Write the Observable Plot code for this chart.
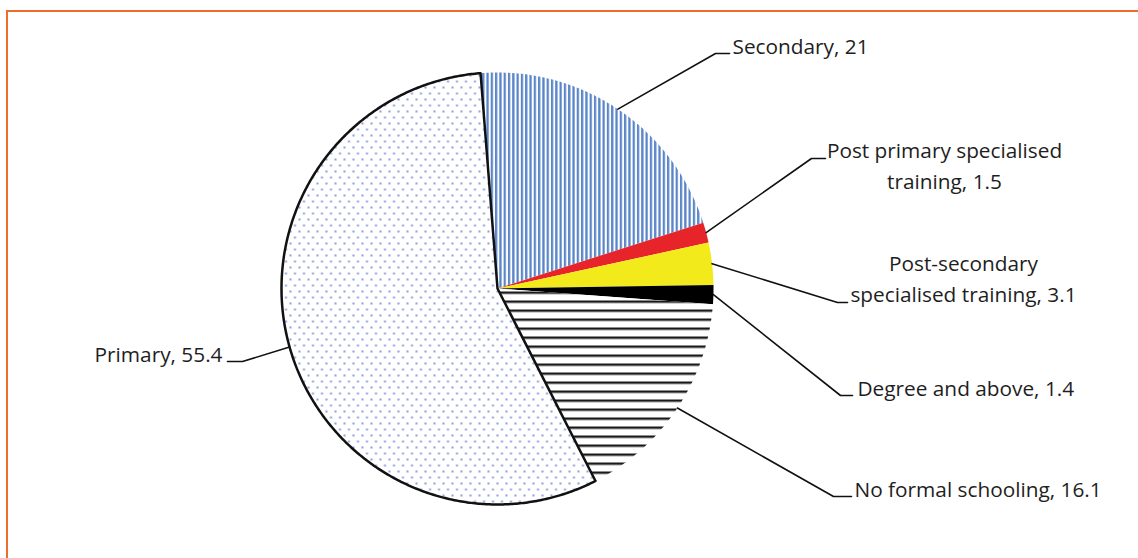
<!DOCTYPE html>
<html>
<head>
<meta charset="utf-8">
<script src="https://cdn.jsdelivr.net/npm/d3@7"></script>
<script src="https://cdn.jsdelivr.net/npm/@observablehq/plot@0.6"></script>
<style>
  html, body { margin: 0; padding: 0; background: #fff; overflow: hidden; }
  #wrap { position: relative; width: 1138px; height: 558px; }
  #frame { position: absolute; left: 6px; top: 10px; right: -20px; bottom: -20px;
           border: 2.5px solid #EF6D2C; pointer-events: none; }
  #chart { position: absolute; left: 0; top: 0; }
</style>
</head>
<body>
<div id="wrap"><div id="chart"></div><div id="frame"></div></div>
<script>
// Educational attainment shares (%)
const categories = [
  "Secondary",
  "Post primary specialised training",
  "Post-secondary specialised training",
  "Degree and above",
  "No formal schooling",
  "Primary"
];
const shares = [21, 1.5, 3.1, 1.4, 16.1, 55.4];
const fills = ["url(#stripe-v)", "#E8242B", "#F3EA1B", "#000000", "url(#stripe-h)", "url(#dots)"];

// Pie geometry (pixels) and label placement
const W = 1138, H = 558;
const CX = 497, CY = 288, R = 216;
const START_DEG = -4.5;
const labelLayout = [
  {elbow: [715, 53],  end: [729, 53],  at: [732, 53],  anchor: "start",  breakAfter: 0},
  {elbow: [811, 158], end: [825, 158], at: [944, 188], anchor: "middle", breakAfter: 3},
  {elbow: [837, 302], end: [847, 302], at: [963, 301], anchor: "middle", breakAfter: 1},
  {elbow: [840, 395], end: [852, 395], at: [857, 395], anchor: "start",  breakAfter: 0},
  {elbow: [833, 496], end: [851, 496], at: [854, 496], anchor: "start",  breakAfter: 0},
  {elbow: [242, 361], end: [227, 361], at: [222, 361], anchor: "end",    breakAfter: 0}
];

// pixel -> data units (pie has radius 1, centred at 0,0, y up)
const ux = px => (px - CX) / R;
const uy = py => (CY - py) / R;

const total = d3.sum(shares);
const rad = deg => deg * Math.PI / 180;
let acc = START_DEG;
const slices = categories.map((name, i) => {
  const sweep = shares[i] / total * 360;
  const s = {name, value: shares[i], fill: fills[i], a0: acc, a1: acc + sweep};
  acc += sweep;
  return s;
});

// polygon outline of each slice, clockwise from the top
const polyPoints = [];
slices.forEach(s => {
  polyPoints.push({name: s.name, fill: s.fill, x: 0, y: 0});
  const steps = Math.max(4, Math.ceil((s.a1 - s.a0) / 0.5));
  for (let k = 0; k <= steps; k++) {
    const a = rad(s.a0 + (s.a1 - s.a0) * k / steps);
    polyPoints.push({name: s.name, fill: s.fill, x: Math.sin(a), y: Math.cos(a)});
  }
  polyPoints.push({name: s.name, fill: s.fill, x: 0, y: 0});
});
const primaryOutline = polyPoints.filter(p => p.name === "Primary");

// leader lines: arc midpoint -> elbow -> short horizontal
const leaders = [];
slices.forEach((s, i) => {
  const m = rad((s.a0 + s.a1) / 2);
  const L = labelLayout[i];
  leaders.push({name: s.name, x: Math.sin(m), y: Math.cos(m)});
  leaders.push({name: s.name, x: ux(L.elbow[0]), y: uy(L.elbow[1])});
  leaders.push({name: s.name, x: ux(L.end[0]), y: uy(L.end[1])});
});

const labels = slices.map((s, i) => {
  const L = labelLayout[i];
  const words = s.name.split(" ");
  const full = L.breakAfter
    ? words.slice(0, L.breakAfter).join(" ") + "\n" + words.slice(L.breakAfter).join(" ") + ", " + s.value
    : s.name + ", " + s.value;
  return {text: full, x: ux(L.at[0]), y: uy(L.at[1]), anchor: L.anchor};
});

const textMark = anchor => Plot.text(labels.filter(d => d.anchor === anchor), {
  x: "x", y: "y", text: "text", textAnchor: anchor, lineAnchor: "bottom",
  lineHeight: 1.45, fontSize: 20.8, fill: "#1e1e1e"
});

const chart = Plot.plot({
  width: W, height: H, margin: 0,
  style: {fontFamily: "'Open Sans', Lato, sans-serif", background: "transparent"},
  x: {domain: [ux(0), ux(W)], range: [0, W], axis: null},
  y: {domain: [uy(H), uy(0)], range: [H, 0], axis: null},
  color: {type: "identity"},
  marks: [
    Plot.line(polyPoints, {x: "x", y: "y", z: "name", fill: "fill", stroke: null}),
    Plot.line(primaryOutline, {x: "x", y: "y", stroke: "#111", strokeWidth: 2.5, strokeLinejoin: "round"}),
    Plot.line(leaders, {x: "x", y: "y", z: "name", stroke: "#111", strokeWidth: 1.6}),
    textMark("start"), textMark("middle"), textMark("end")
  ]
});

// fill patterns for the hatched slices
const defs = d3.select(chart).insert("defs", ":first-child");
const v = defs.append("pattern").attr("id", "stripe-v").attr("patternUnits", "userSpaceOnUse")
  .attr("width", 4.3).attr("height", 10);
v.append("rect").attr("width", 4.3).attr("height", 10).attr("fill", "#fff");
v.append("rect").attr("width", 2.3).attr("height", 10).attr("fill", "#5A86C9");
const h = defs.append("pattern").attr("id", "stripe-h").attr("patternUnits", "userSpaceOnUse")
  .attr("width", 10).attr("height", 9).attr("y", CY + 3);
h.append("rect").attr("width", 10).attr("height", 9).attr("fill", "#fff");
h.append("rect").attr("width", 10).attr("height", 2.4).attr("fill", "#1a1a1a");
const dt = defs.append("pattern").attr("id", "dots").attr("patternUnits", "userSpaceOnUse")
  .attr("width", 9).attr("height", 12);
dt.append("rect").attr("width", 9).attr("height", 12).attr("fill", "#fff");
dt.append("circle").attr("cx", 2).attr("cy", 3).attr("r", 1.1).attr("fill", "#6D8AD2");
dt.append("circle").attr("cx", 6.5).attr("cy", 9).attr("r", 1.1).attr("fill", "#6D8AD2");

document.getElementById("chart").appendChild(chart);
</script>
</body>
</html>
